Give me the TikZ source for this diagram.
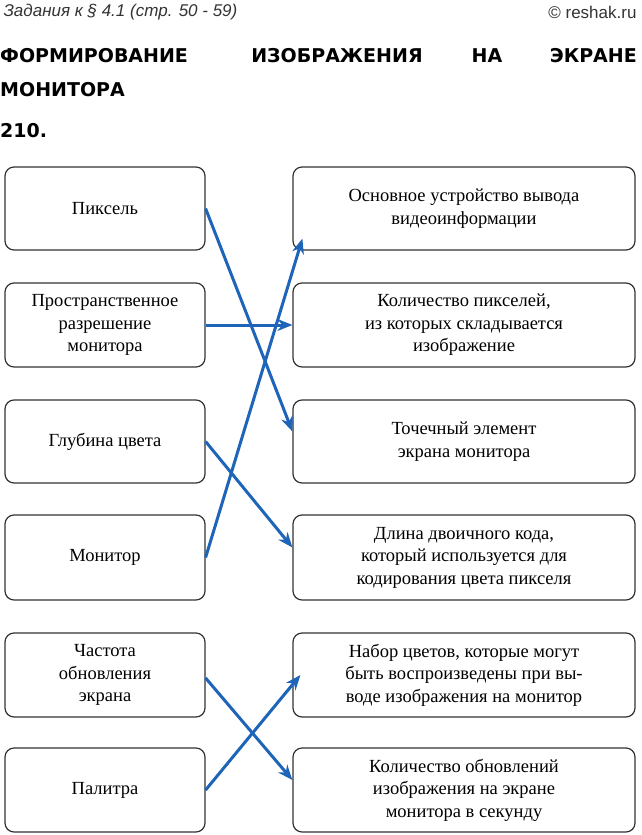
\documentclass[tikz,border=0pt]{standalone}
\usepackage{fontspec}
\setmainfont{Liberation Serif}
\newfontfamily\hsans{Liberation Sans}
\newfontfamily\tsans{DejaVu Sans}
\usetikzlibrary{arrows.meta}
\definecolor{arr}{RGB}{30,100,185}
\begin{document}
\begin{tikzpicture}[x=1pt,y=-1pt,
  box/.style={draw=black!80,line width=1.2pt,rounded corners=9pt,align=center,font=\fontsize{18.5}{22.5}\selectfont,inner sep=0pt},
  ar/.style={draw=arr,line width=3pt,-{Stealth[length=15pt,width=12pt]}},
  ttl/.style={font=\tsans\bfseries\fontsize{19}{22}\selectfont,inner sep=0pt}]
\useasboundingbox (0,0) rectangle (642,835);
\node[anchor=west,font=\hsans\itshape\fontsize{17}{20}\selectfont,text=black!80] (h1) at (0,12) {Задания к § 4.1 (стр. 50 - 59)};
\node[anchor=east,font=\hsans\fontsize{17}{20}\selectfont,text=black!80] (h2) at (640,12) {© reshak.ru};
\node[ttl,anchor=west] (t1) at (0,56) {ФОРМИРОВАНИЕ};
\node[ttl] (t2) at (337,56) {ИЗОБРАЖЕНИЯ};
\node[ttl] (t3) at (487,56) {НА};
\node[ttl,anchor=east] (t4) at (637,56) {ЭКРАНЕ};
\node[ttl,anchor=west] (t5) at (0,90) {МОНИТОРА};
\node[ttl,anchor=west] (num) at (0,131) {210.};
\foreach \n/\t/\b/\txt in {L1/167/250/Пиксель, L2/283/367/{Пространственное\\разрешение\\монитора}, L3/400/483/Глубина цвета, L4/515/600/Монитор, L5/633/717/{Частота\\обновления\\экрана}, L6/748/832/Палитра}
  \node[box,minimum width=200pt,minimum height=\b-\t] (\n) at (105,{(\t+\b)/2}) {\txt};
\foreach \n/\t/\b/\txt in {R1/167/250/{Основное устройство вывода\\видеоинформации}, R2/283/367/{Количество пикселей,\\из которых складывается\\изображение}, R3/400/483/{Точечный элемент\\экрана монитора}, R4/515/600/{Длина двоичного кода,\\который используется для\\кодирования цвета пикселя}, R5/633/717/{Набор цветов, которые могут\\быть воспроизведены при вы-\\воде изображения на монитор}, R6/748/832/{Количество обновлений\\изображения на экране\\монитора в секунду}}
  \node[box,minimum width=342pt,minimum height=\b-\t] (\n) at (464,{(\t+\b)/2}) {\txt};
\draw[ar] (L1.east) -- ([yshift=10pt]R3.west);
\draw[ar] (L2.east) -- (R2.west);
\draw[ar] (L3.east) -- ([yshift=10pt]R4.west);
\draw[ar] (L4.east) -- ([xshift=10pt,yshift=12pt]R1.south west);
\draw[ar] ([yshift=-3pt]L5.east) -- ([yshift=10pt]R6.west);
\draw[ar] (L6.east) -- ([xshift=8pt]R5.west);
\end{tikzpicture}
\end{document}
